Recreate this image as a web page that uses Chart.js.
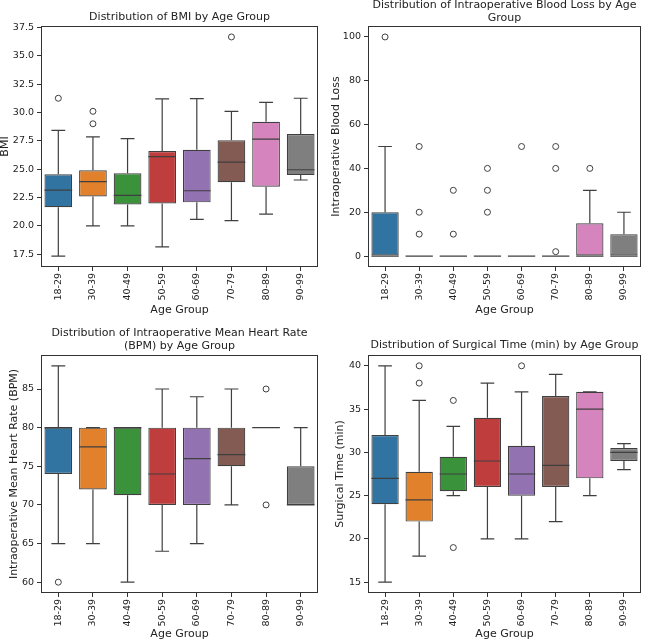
<!DOCTYPE html>
<html>
<head>
<meta charset="utf-8">
<script src="https://cdn.jsdelivr.net/npm/chart.js@4.4.1/dist/chart.umd.min.js"></script>
<style>
    html, body { margin: 0; padding: 0; background: #fff; }
    #wrap { position: relative; width: 646px; height: 644px; }
    canvas { position: absolute; }
</style>
</head>
<body>
<div id="wrap">
    <canvas id="bmiChart" width="323" height="322" style="left:0;top:0"></canvas>
    <canvas id="bloodChart" width="323" height="322" style="left:323px;top:0"></canvas>
    <canvas id="hrChart" width="323" height="322" style="left:0;top:322px"></canvas>
    <canvas id="timeChart" width="323" height="322" style="left:323px;top:322px"></canvas>
</div>
<script>
const ageGroups = ['18-29', '30-39', '40-49', '50-59', '60-69', '70-79', '80-89', '90-99'];
const palette = ['#3274a1', '#e1812c', '#3a923a', '#c03d3e', '#9372b2', '#845b53', '#d684bd', '#7f7f7f'];

// BMI
const bmiLow = [17.35, 20.0, 20.0, 18.15, 20.58, 20.47, 21.05, 24.05];
const bmiQ1 = [21.65, 22.6, 21.9, 21.98, 22.08, 23.85, 23.45, 24.48];
const bmiMedian = [23.15, 23.9, 22.7, 26.1, 23.1, 25.62, 27.65, 24.95];
const bmiQ3 = [24.55, 24.9, 24.65, 26.6, 26.72, 27.55, 29.18, 28.1];
const bmiHigh = [28.42, 27.85, 27.7, 31.2, 31.22, 30.1, 30.88, 31.25];
const bmiOutliers = [['18-29', 31.25], ['30-39', 29.0], ['30-39', 30.1], ['70-79', 36.65]];
const bmiTicks = [17.5, 20, 22.5, 25, 27.5, 30, 32.5, 35, 37.5];

// Intraoperative blood loss
const bloodLow = [0, 0, 0, 0, 0, 0, 0, 0];
const bloodQ1 = [0, 0, 0, 0, 0, 0, 0, 0];
const bloodMedian = [0, 0, 0, 0, 0, 0, 0, 0];
const bloodQ3 = [20, 0, 0, 0, 0, 0, 15, 10];
const bloodHigh = [50, 0, 0, 0, 0, 0, 30, 20];
const bloodOutliers = [
    ['18-29', 100], ['30-39', 10], ['30-39', 20], ['30-39', 50], ['40-49', 10], ['40-49', 30],
    ['50-59', 20], ['50-59', 30], ['50-59', 40], ['60-69', 50], ['70-79', 2], ['70-79', 40],
    ['70-79', 50], ['80-89', 40]
];
const bloodTicks = [0, 20, 40, 60, 80, 100];

// Intraoperative mean heart rate
const hrLow = [65, 65, 60, 64, 65, 70, 80, 70];
const hrQ1 = [74, 72, 71.25, 70, 70, 75, 80, 70];
const hrMedian = [80, 77.5, 80, 74, 76, 76.5, 80, 70];
const hrQ3 = [80, 80, 80, 80, 80, 80, 80, 75];
const hrHigh = [88, 80, 80, 85, 84, 85, 80, 80];
const hrOutliers = [['18-29', 60], ['80-89', 85], ['80-89', 70]];
const hrTicks = [60, 65, 70, 75, 80, 85];

// Surgical time
const timeLow = [15, 18, 25, 20, 20, 22, 25, 28];
const timeQ1 = [24, 22, 25.5, 26, 25, 26, 27, 29];
const timeMedian = [27, 24.5, 27.5, 29, 27.5, 28.5, 35, 30];
const timeQ3 = [32, 27.75, 29.5, 34, 30.75, 36.5, 37, 30.5];
const timeHigh = [40, 36, 33, 38, 37, 39, 37, 31];
const timeOutliers = [['30-39', 38], ['30-39', 40], ['40-49', 36], ['40-49', 19], ['60-69', 40]];
const timeTicks = [15, 20, 25, 30, 35, 40];

const lineColor = '#3f3f3f';
const textColor = '#222';
Chart.defaults.font.family = "'DejaVu Sans', sans-serif";
Chart.defaults.color = textColor;

// matplotlib style 5% margin around the data
function paddedRange(lists) {
    const all = lists.flat();
    const lo = Math.min(...all), hi = Math.max(...all);
    const pad = (hi - lo) * 0.05;
    return [lo - pad, hi + pad];
}

// whiskers, caps, medians and the axes frame
function boxPlotPlugin(stats) {
    return {
        id: 'boxPlot',
        afterDatasetsDraw(chart) {
            const { ctx, chartArea, scales: { x, y } } = chart;
            const bars = chart.getDatasetMeta(0).data;
            ctx.save();
            ctx.strokeStyle = lineColor;
            ctx.lineWidth = 1.2;
            stats.low.forEach((low, i) => {
                const cx = x.getPixelForValue(i);
                const half = bars[i].width / 2;
                const cap = half / 2;
                const yLow = y.getPixelForValue(low);
                const yQ1 = y.getPixelForValue(stats.q1[i]);
                const yQ3 = y.getPixelForValue(stats.q3[i]);
                const yHigh = y.getPixelForValue(stats.high[i]);
                const yMed = y.getPixelForValue(stats.median[i]);
                ctx.beginPath();
                ctx.moveTo(cx, yLow); ctx.lineTo(cx, yQ1);
                ctx.moveTo(cx, yQ3); ctx.lineTo(cx, yHigh);
                ctx.moveTo(cx - cap, yLow); ctx.lineTo(cx + cap, yLow);
                ctx.moveTo(cx - cap, yHigh); ctx.lineTo(cx + cap, yHigh);
                ctx.moveTo(cx - half, yMed); ctx.lineTo(cx + half, yMed);
                ctx.stroke();
            });
            ctx.lineWidth = 1;
            ctx.strokeStyle = '#333';
            ctx.strokeRect(chartArea.left + 0.5, chartArea.top + 0.5, chartArea.width - 1, chartArea.height - 1);
            ctx.restore();
        }
    };
}

function renderBoxChart(id, cfg) {
    const ctx = document.getElementById(id).getContext('2d');
    const [yMin, yMax] = paddedRange([cfg.low, cfg.high, cfg.outliers.map(o => o[1])]);

    return new Chart(ctx, {
        type: 'bar',
        data: {
            labels: ageGroups,
            datasets: [
                {
                    data: cfg.q1.map((v, i) => [v, cfg.q3[i]]),
                    backgroundColor: palette,
                    borderColor: lineColor,
                    borderWidth: 1.2,
                    borderSkipped: false,
                    barPercentage: 0.8,
                    categoryPercentage: 1.0
                },
                {
                    type: 'line',
                    data: cfg.outliers.map(([g, v]) => ({ x: g, y: v })),
                    showLine: false,
                    pointRadius: 3,
                    pointBackgroundColor: 'rgba(0,0,0,0)',
                    pointBorderColor: lineColor,
                    pointBorderWidth: 1
                }
            ]
        },
        options: {
            responsive: false,
            animation: false,
            layout: { padding: { left: 0, right: cfg.padRight, top: 0, bottom: 0 } },
            plugins: {
                legend: { display: false },
                tooltip: { enabled: false },
                title: {
                    display: true,
                    text: cfg.title,
                    fullSize: false,
                    color: textColor,
                    font: { size: 11, weight: 'normal', lineHeight: 1.2 },
                    padding: cfg.titlePad
                }
            },
            scales: {
                x: {
                    offset: true,
                    grid: { display: true, offset: false, drawOnChartArea: false, tickLength: 4, tickColor: '#333' },
                    border: { display: false },
                    ticks: { minRotation: 90, maxRotation: 90, autoSkip: false, padding: 2, font: { size: 9.5 }, color: textColor },
                    title: {
                        display: true,
                        text: 'Age Group',
                        color: textColor,
                        font: { size: 11, lineHeight: 1.2 },
                        padding: { top: 0, bottom: cfg.xTitleBottom }
                    },
                    afterFit: s => { s.height = cfg.xHeight; }
                },
                y: {
                    min: yMin,
                    max: yMax,
                    bounds: 'data',
                    grid: { display: true, drawOnChartArea: false, tickLength: 4, tickColor: '#333' },
                    border: { display: false },
                    ticks: {
                        padding: 3,
                        font: { size: 9.5 },
                        color: textColor,
                        callback: v => cfg.tickFormat(v)
                    },
                    afterBuildTicks: s => { s.ticks = cfg.ticks.map(v => ({ value: v })); },
                    title: {
                        display: true,
                        text: cfg.yLabel,
                        color: textColor,
                        font: { size: 11, lineHeight: 1.2 },
                        padding: { top: cfg.yTitleTop, bottom: 0 }
                    },
                    afterFit: s => { s.width = cfg.yWidth; }
                }
            }
        },
        plugins: [boxPlotPlugin({ low: cfg.low, q1: cfg.q1, median: cfg.median, q3: cfg.q3, high: cfg.high })]
    });
}

renderBoxChart('bmiChart', {
    title: 'Distribution of BMI by Age Group',
    yLabel: 'BMI',
    low: bmiLow, q1: bmiQ1, median: bmiMedian, q3: bmiQ3, high: bmiHigh,
    outliers: bmiOutliers, ticks: bmiTicks,
    tickFormat: v => v.toFixed(1),
    padRight: 5, yWidth: 41, yTitleTop: -1.6,
    titlePad: { top: 10.4, bottom: 2.4 },
    xHeight: 55, xTitleBottom: 5.4
});

renderBoxChart('bloodChart', {
    title: ['Distribution of Intraoperative Blood Loss by Age', 'Group'],
    yLabel: 'Intraoperative Blood Loss',
    low: bloodLow, q1: bloodQ1, median: bloodMedian, q3: bloodQ3, high: bloodHigh,
    outliers: bloodOutliers, ticks: bloodTicks,
    tickFormat: v => String(v),
    padRight: 1, yWidth: 45, yTitleTop: 6.4,
    titlePad: { top: -1.5, bottom: 1.1 },
    xHeight: 55, xTitleBottom: 5.4
});

renderBoxChart('hrChart', {
    title: ['Distribution of Intraoperative Mean Heart Rate', '(BPM) by Age Group'],
    yLabel: 'Intraoperative Mean Heart Rate (BPM)',
    low: hrLow, q1: hrQ1, median: hrMedian, q3: hrQ3, high: hrHigh,
    outliers: hrOutliers, ticks: hrTicks,
    tickFormat: v => String(v),
    padRight: 5, yWidth: 41, yTitleTop: 7.4,
    titlePad: { top: 4.4, bottom: 2.2 },
    xHeight: 51, xTitleBottom: 3.4
});

renderBoxChart('timeChart', {
    title: 'Distribution of Surgical Time (min) by Age Group',
    yLabel: 'Surgical Time (min)',
    low: timeLow, q1: timeQ1, median: timeMedian, q3: timeQ3, high: timeHigh,
    outliers: timeOutliers, ticks: timeTicks,
    tickFormat: v => String(v),
    padRight: 1, yWidth: 45, yTitleTop: 10.4,
    titlePad: { top: 16.4, bottom: 3.4 },
    xHeight: 51, xTitleBottom: 3.4
});
</script>
</body>
</html>
